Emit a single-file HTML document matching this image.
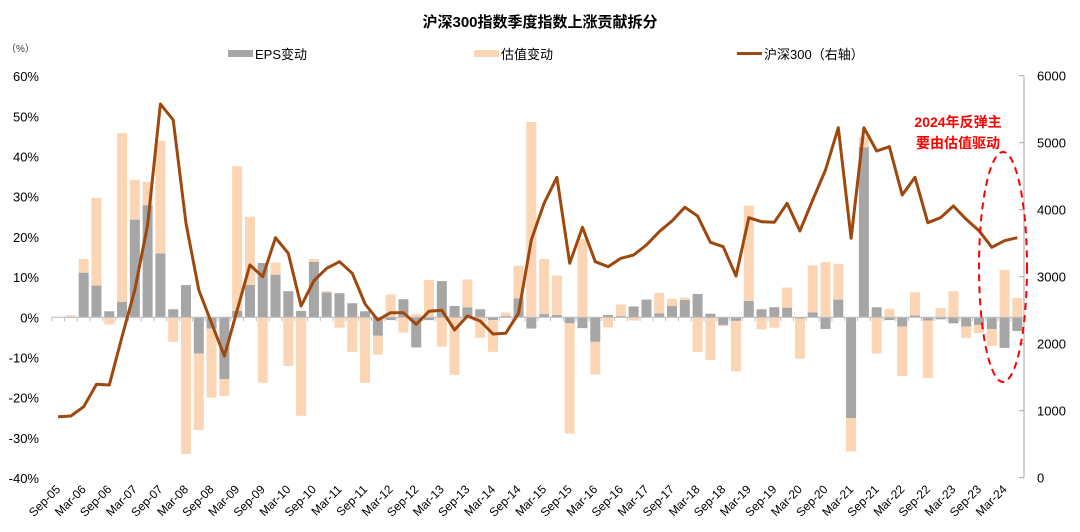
<!DOCTYPE html>
<html><head><meta charset="utf-8"><style>
html,body{margin:0;padding:0;background:#fff;}
svg{display:block;font-family:"Liberation Sans","Noto Sans CJK SC",sans-serif;}
</style></head><body>
<svg id="c" width="1080" height="532" viewBox="0 0 1080 532" xmlns="http://www.w3.org/2000/svg">
<text x="540" y="27" text-anchor="middle" font-size="15" font-weight="bold" fill="#000">沪深300指数季度指数上涨贡献拆分</text>
<text x="6" y="52" font-size="10" fill="#333">（%）</text>
<rect x="228" y="50" width="25" height="7" fill="#A6A6A6"/><text x="255" y="59" font-size="13" fill="#000">EPS变动</text>
<rect x="474" y="50" width="25" height="7" fill="#FCD5B5"/><text x="501" y="59" font-size="13" fill="#000">估值变动</text>
<rect x="737" y="52" width="25" height="3" fill="#9E480E"/><text x="764" y="59" font-size="13" fill="#000">沪深300（右轴）</text>
<g id="g"></g>
<text x="958" y="127" text-anchor="middle" font-size="14" font-weight="bold" fill="#FF0000">2024年反弹主</text>
<text x="958" y="148" text-anchor="middle" font-size="14" font-weight="bold" fill="#FF0000">要由估值驱动</text>
<ellipse cx="1003" cy="267" rx="24" ry="115" fill="none" stroke="#FF0000" stroke-width="2" stroke-dasharray="7,5"/>
</svg>
<script>
var eps=[0,0,11.1,7.9,1.5,3.8,24.3,27.9,15.9,2,8,-9,-2.8,-15.4,1.6,8.1,13.5,10.6,6.5,1.6,13.8,6.2,6,3.5,1.5,-4.6,-0.7,4.5,-7.5,-0.7,9,2.8,2.5,2,-0.7,0.3,4.7,-2.8,0.8,0.6,-1.5,-2.7,-6.1,0.6,0.3,2.7,4.4,1,2.8,4.3,5.8,0.9,-1.9,-0.9,4.1,2,2.5,2.4,-0.3,1.2,-2.9,4.4,-25.1,42.3,2.5,-0.7,-2.3,0.5,-0.8,-0.5,-1.5,-2.3,-1.9,-2.9,-7.6,-3.4];
var val=[0,0.5,3.4,21.8,-1.8,42,9.9,5.8,28,-6.1,-34,-19,-17.2,-4.2,36,16.9,-16.3,3,-12.1,-24.5,0.7,0.3,-2.6,-8.6,-16.3,-4.7,5.7,-3.8,0.8,9.3,-7.3,-14.3,6.9,-5.1,-7.9,0.9,8.1,48.6,13.7,9.8,-27.4,19.5,-8.1,-2.5,2.9,-0.8,0,5.1,1.8,0.6,-8.6,-10.6,-0.3,-12.5,23.7,-3,-2.6,5,-10,11.7,13.7,8.9,-8.3,2.6,-9,2.1,-12.3,5.7,-14.3,2.3,6.5,-2.8,-2,-4.2,11.8,4.8];
var ly=[416.7,416,406.7,384.3,385,336.7,290,225,104,120,223.3,290,323.3,356,310,265,276.7,237.7,253.3,306,280.7,268.3,261.7,273.3,304,320,312.7,312.7,324.3,311.3,310.3,330,316,321,334,333.3,313.3,240,203.3,177.3,263.3,227.3,261.7,266.7,258.3,255,245,231.7,221,207.3,216,242.3,246.7,276,217.7,221.7,222.3,203.3,231,200,170,127.7,238.3,127.7,151,146.7,195,177.3,222.7,217.7,206,219.3,230.7,247.3,240.7,237.7];
var Z=317.3,K=4.02,X0=51.7,W=12.79,s='';
var lab=['Sep','Mar'];
for(var p=60;p>=-40;p-=10){var y=Z-p*K;s+='<text x="39" y="'+(y+5)+'" text-anchor="end" font-size="13" fill="#000">'+p+'%</text>';}
for(var v=0;v<=6000;v+=1000){var y=477.7-v*0.067;s+='<line x1="1019" x2="1024" y1="'+y+'" y2="'+y+'" stroke="#A6A6A6"/><text x="1037" y="'+(y+5)+'" font-size="13" fill="#000">'+v+'</text>';}
s+='<line x1="1024" x2="1024" y1="76.5" y2="477.7" stroke="#A6A6A6"/>';
for(var i=0;i<76;i++){
 var cx=X0+W*(i+0.5),bx=cx-5,bw=10;
 var e=eps[i],v=val[i],pos=0,neg=0;
 function bar(a,col){ if(a===0)return; var y0,y1; if(a>0){y0=pos;pos+=a;y1=pos;}else{y0=neg;neg+=a;y1=neg;} var top=Z-Math.max(y0,y1)*K,h=Math.abs(a)*K; s+='<rect x="'+bx+'" y="'+top+'" width="'+bw+'" height="'+h+'" fill="'+col+'"/>';}
 bar(e,'#A6A6A6');bar(v,'#FCD5B5');
}
s+='<line x1="'+X0+'" x2="1024" y1="'+Z+'" y2="'+Z+'" stroke="#BFBFBF" stroke-width="1.2"/>';
for(var i=0;i<=76;i++){var x=X0+W*i;s+='<line x1="'+x+'" x2="'+x+'" y1="'+Z+'" y2="'+(Z+4)+'" stroke="#BFBFBF"/>';}
for(var i=0;i<76;i+=2){var cx=X0+W*(i+0.5)+3,yr=5+Math.floor(i/4)+(i%4==0?0:1);var m=(i%4==0)?'Sep':'Mar';var t=m+'-'+(yr<10?'0':'')+yr;
 s+='<text x="'+cx+'" y="490" text-anchor="end" font-size="12" fill="#000" transform="rotate(-45 '+cx+' 490)">'+t+'</text>';}
var pts=[];for(var i=0;i<76;i++)pts.push((X0+W*(i+0.5)).toFixed(1)+','+ly[i]);
s+='<polyline points="'+pts.join(' ')+'" fill="none" stroke="#9E480E" stroke-width="3" stroke-linejoin="round"/>';
document.getElementById('g').innerHTML=s;
</script>
</body></html>
